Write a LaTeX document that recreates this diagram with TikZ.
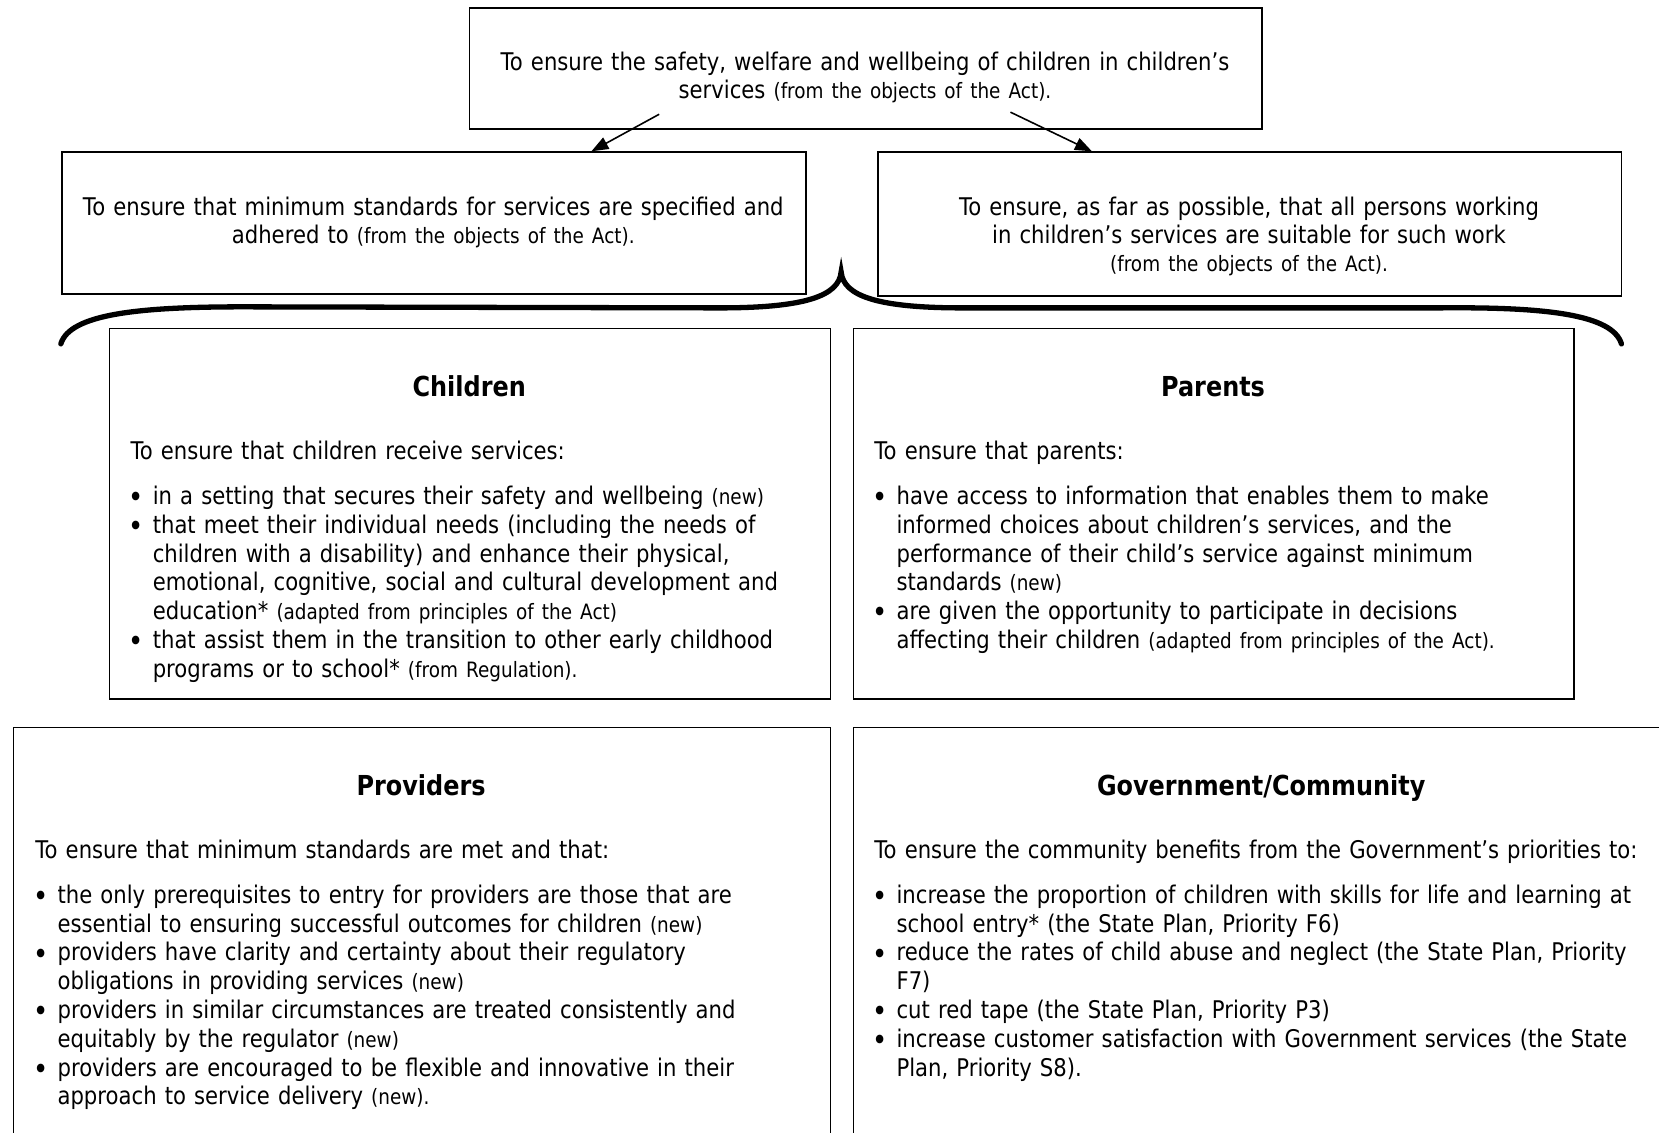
\documentclass[tikz,border=0pt]{standalone}
\usepackage{fontspec}
\setmainfont{DejaVu Sans}[FakeStretch=0.87]
\usetikzlibrary{arrows.meta}
\newcommand\sm[1]{{\fontsize{10}{13.6}\selectfont #1}}
\newcommand\bl{\makebox[10.5pt][l]{\hspace*{-1pt}\raisebox{-1.6pt}{\fontsize{14}{13.6}\selectfont •}}}
\newcommand\ct{\hspace*{10.5pt}}
\newcommand\sst{\rule{0pt}{9pt}}
\begin{document}
\begin{tikzpicture}[x=0.5pt,y=-0.5pt,
  box/.style={draw, line width=0.7pt, anchor=north west, inner sep=0pt},
  body/.style={anchor=north west, inner sep=0pt, text width=420pt, align=left, font={\fontsize{11.5}{13.6}\selectfont}},
  ctext/.style={anchor=north, inner sep=0pt, text width=420pt, align=center, font={\fontsize{11.5}{13.4}\selectfont}},
  head/.style={anchor=base, inner sep=0pt, font={\fontsize{13}{15}\selectfont\bfseries}},
  arr/.style={-{Triangle[length=8pt,width=6pt]}, line width=0.75pt},
  bracestyle/.style={line width=2.5pt, line cap=round}]
\useasboundingbox[fill=white] (0,0) rectangle (1568,1070);
\clip (0,0) rectangle (1568,1070);

% boxes
\node[box, minimum width=374.5pt, minimum height=57pt] (top) at (443,7) {};
\node[box, minimum width=351.5pt, minimum height=67pt] (left) at (58,143) {};
\node[box, minimum width=351.5pt, minimum height=68pt] (right) at (829,143) {};
\node[box, minimum width=340.5pt, minimum height=175pt] (child) at (103,310) {};
\node[box, minimum width=340.5pt, minimum height=175pt] (par) at (806,310) {};
\node[box, minimum width=386pt, minimum height=210pt] (prov) at (12,687) {};
\node[box, minimum width=386pt, minimum height=210pt] (gov) at (806,687) {};

% top texts
\node[ctext] (toptxt) at (817.5,48) {\sst To ensure the safety, welfare and wellbeing of children in children’s\\ services \sm{(from the objects of the Act).}};
\node[ctext] (lefttxt) at (409.5,185) {\sst To ensure that minimum standards for services are specified and\\ adhered to \sm{(from the objects of the Act).}};
\node[ctext] (righttxt) at (1180.5,185) {\sst To ensure, as far as possible, that all persons working\\ in children’s services are suitable for such work\\ \sm{(from the objects of the Act).}};

% arrows
\coordinate (a1) at (623,108);
\coordinate (t1) at (559,143);
\coordinate (a2) at (955,106);
\coordinate (t2) at (1032,143);
\draw[arr] (a1) -- (t1);
\draw[arr] (a2) -- (t2);

% brace
\coordinate (bl) at (57.5,325);
\coordinate (btip) at (795,257);
\coordinate (br) at (1532.5,325);
\draw[bracestyle] (bl) .. controls (66,297) and (130,290) .. (230,290) -- (680,291)
  .. controls (760,291) and (793,280) .. (btip)
  .. controls (797,280) and (830,291) .. (910,291) -- (1360,291)
  .. controls (1460,290) and (1524,297) .. (br);

% headings
\node[head] (hchild) at (443.5,375) {Children};
\node[head] (hpar) at (1146.5,375) {Parents};
\node[head] (hprov) at (398,752) {Providers};
\node[head] (hgov) at (1192,752) {Government/Community};

% bodies
\node[body] (bchild) at (123,416) {\sst To ensure that children receive services:\\[7.6pt]
\bl in a setting that secures their safety and wellbeing \sm{(new)}\\
\bl that meet their individual needs (including the needs of\\
\ct children with a disability) and enhance their physical,\\
\ct emotional, cognitive, social and cultural development and\\
\ct education* \sm{(adapted from principles of the Act)}\\
\bl that assist them in the transition to other early childhood\\
\ct programs or to school* \sm{(from Regulation).}};

\node[body] (bpar) at (826,416) {\sst To ensure that parents:\\[7.6pt]
\bl have access to information that enables them to make\\
\ct informed choices about children’s services, and the\\
\ct performance of their child’s service against minimum\\
\ct standards \sm{(new)}\\
\bl are given the opportunity to participate in decisions\\
\ct affecting their children \sm{(adapted from principles of the Act).}};

\node[body] (bprov) at (33,793) {\sst To ensure that minimum standards are met and that:\\[7.6pt]
\bl the only prerequisites to entry for providers are those that are\\
\ct essential to ensuring successful outcomes for children \sm{(new)}\\
\bl providers have clarity and certainty about their regulatory\\
\ct obligations in providing services \sm{(new)}\\
\bl providers in similar circumstances are treated consistently and\\
\ct equitably by the regulator \sm{(new)}\\
\bl providers are encouraged to be flexible and innovative in their\\
\ct approach to service delivery \sm{(new).}};

\node[body] (bgov) at (826,793) {\sst To ensure the community benefits from the Government’s priorities to:\\[7.6pt]
\bl increase the proportion of children with skills for life and learning at\\
\ct school entry* (the State Plan, Priority F6)\\
\bl reduce the rates of child abuse and neglect (the State Plan, Priority\\
\ct F7)\\
\bl cut red tape (the State Plan, Priority P3)\\
\bl increase customer satisfaction with Government services (the State\\
\ct Plan, Priority S8).};
\end{tikzpicture}
\end{document}
